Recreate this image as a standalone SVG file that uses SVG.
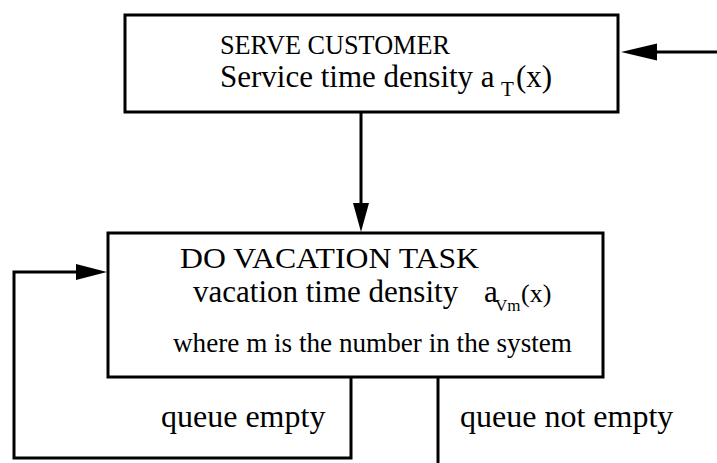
<svg xmlns="http://www.w3.org/2000/svg" width="717" height="463" viewBox="0 0 717 463">
<style>
.box{fill:#fff;stroke:#000;stroke-width:3}
.ln{fill:none;stroke:#000;stroke-width:3}
.hd{fill:#000}
text{font-family:"Liberation Serif","Times New Roman",serif;fill:#000}
</style>
<rect width="717" height="463" fill="#fff"/>
<g id="connectors">
<line class="ln" x1="717" y1="52" x2="650" y2="52"/>
<polygon class="hd" points="621,52 657,43.5 657,60.5"/>
<line class="ln" x1="361" y1="112" x2="361" y2="210"/>
<polygon class="hd" points="361,232 353,203 369,203"/>
<polyline class="ln" points="351,377 351,458 14,458 14,272 82,272"/>
<polygon class="hd" points="107,272 76,264 76,280"/>
<line class="ln" x1="438" y1="377" x2="438" y2="463"/>
</g>
<g id="serve">
<rect class="box" x="125" y="15" width="493" height="97"/>
<text x="220" y="54" font-size="28" textLength="230" lengthAdjust="spacingAndGlyphs">SERVE CUSTOMER</text>
<text x="220" y="87" font-size="31">Service time density a</text>
<text x="501" y="96" font-size="21">T</text>
<text x="516" y="87" font-size="31">(x)</text>
</g>
<g id="vacation">
<rect class="box" x="108" y="233" width="495" height="144"/>
<text x="180" y="268" font-size="30" textLength="299" lengthAdjust="spacingAndGlyphs">DO VACATION TASK</text>
<text x="193" y="302" font-size="31">vacation time density</text>
<text x="484" y="302" font-size="31">a</text>
<text x="495" y="311" font-size="17">Vm</text>
<text x="521" y="302" font-size="26">(x)</text>
<text x="173" y="352" font-size="27" textLength="399" lengthAdjust="spacingAndGlyphs">where m is the number in the system</text>
</g>
<g id="labels">
<text x="161" y="427" font-size="32">queue empty</text>
<text x="460" y="427" font-size="32">queue not empty</text>
</g>
</svg>
